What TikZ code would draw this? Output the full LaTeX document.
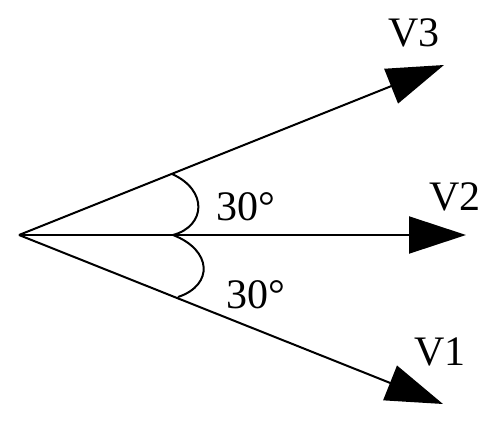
\documentclass[tikz,border=0pt]{standalone}
\usepackage{fontspec}
\setmainfont{Liberation Serif}
\usetikzlibrary{arrows.meta}
\begin{document}
\begin{tikzpicture}[x=1pt,y=-1pt,
  vec/.style={line width=2pt,-{Triangle[length=57pt,width=37pt]}},
  anglearc/.style={line width=2pt},
  lbl/.style={font=\fontsize{42}{48}\selectfont, inner sep=0pt}]
\useasboundingbox (0,0) rectangle (500,423);
\coordinate (O) at (19,235);
\coordinate (t3) at (444,65);
\coordinate (t2) at (466,235);
\coordinate (t1) at (443,404);
\coordinate (a3) at (172,174);
\coordinate (a2) at (173,235);
\coordinate (a1) at (178,297);
\draw[vec] (O) -- (t3);
\draw[vec] (O) -- (t2);
\draw[vec] (O) -- (t1);
\draw[anglearc] (a3) .. controls (208,190) and (206,226) .. (a2);
\draw[anglearc] (a2) .. controls (212,250) and (214,285) .. (a1);
\node[lbl] (l3) at (414,33) {V3};
\node[lbl] (l2) at (455,197) {V2};
\node[lbl] (l1) at (440,352) {V1};
\node[lbl] (u) at (246,207) {30°};
\node[lbl] (d) at (256,295) {30°};
\end{tikzpicture}
\end{document}
